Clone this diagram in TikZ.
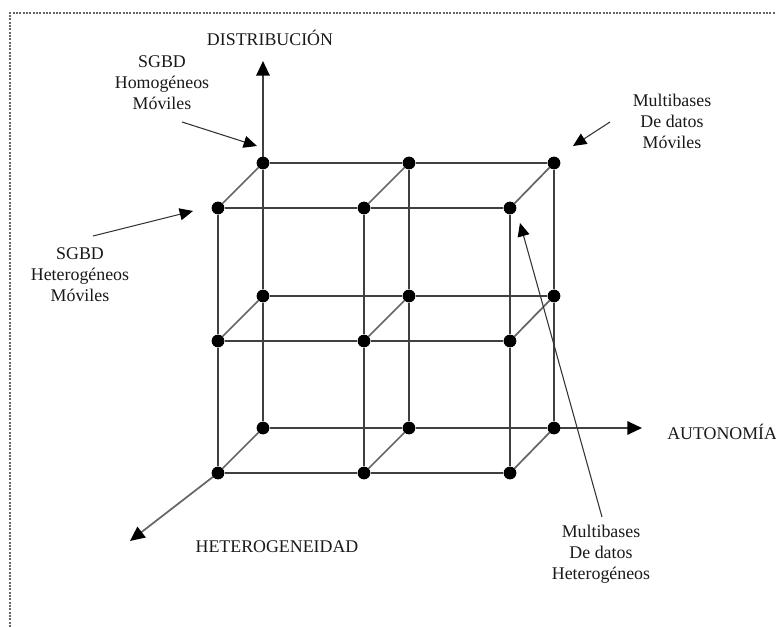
\documentclass[tikz,border=0pt]{standalone}
\usepackage{fontspec}
\setmainfont{Liberation Serif}
\usetikzlibrary{arrows.meta}
\begin{document}
\begin{tikzpicture}[x=0.75pt,y=-0.75pt,
  dot/.style={circle,fill=black,inner sep=0pt,minimum size=9.4pt},
  edge/.style={draw=black!75,line width=1.6pt},
  diag/.style={draw=black!60,line width=1.3pt},
  axis/.style={draw=black!75,line width=1.6pt,-{Triangle[length=11pt,width=10pt,color=black]}},
  callout/.style={draw=black!80,line width=0.8pt,-{Triangle[length=10pt,width=9pt,color=black]}},
  lbl/.style={font=\fontsize{13.4}{15.8}\selectfont,align=center,text=black!90,inner sep=0pt},
  frame/.style={draw=black!60,line width=1.5pt,densely dotted}]
\useasboundingbox (0,0) rectangle (776,627);
\coordinate (fr0) at (10,13);
\coordinate (fr1) at (776,13);
\coordinate (fr2) at (10,627);
\draw[frame] (fr2) -- (fr0) -- (fr1);
% grid points: front face (f) and back face (b)
\foreach \c/\x in {a/218,b/364,c/510}{
  \foreach \r/\y in {1/208,2/341,3/473}{
    \node[dot] (f\c\r) at (\x,\y) {};
  }
}
\foreach \c/\x in {a/263,b/409,c/554}{
  \foreach \r/\y in {1/163,2/296,3/428}{
    \node[dot] (b\c\r) at (\x,\y) {};
  }
}
% axes
\coordinate (axD) at (263,61);
\coordinate (axA) at (642,428);
\coordinate (axH) at (130,541);
\draw[axis] (ba1.center) -- (axD);
\draw[axis] (bc3.center) -- (axA);
\draw[axis,draw=black!60,line width=1.3pt] (fa3.center) -- (axH);
% diagonals
\foreach \c in {a,b,c}{\foreach \r in {1,2,3}{\draw[diag] (f\c\r) -- (b\c\r);}}
% back face
\foreach \r in {1,2,3}{\draw[edge] (ba\r) -- (bb\r) -- (bc\r);}
\foreach \c in {a,b,c}{\draw[edge] (b\c1) -- (b\c2) -- (b\c3);}
% front face
\foreach \r in {1,2,3}{\draw[edge] (fa\r) -- (fb\r) -- (fc\r);}
\foreach \c in {a,b,c}{\draw[edge] (f\c1) -- (f\c2) -- (f\c3);}
% redraw dots on top
\foreach \c in {a,b,c}{\foreach \r in {1,2,3}{\fill (f\c\r) circle (4.7pt); \fill (b\c\r) circle (4.7pt);}}
% axis labels
\node[lbl] (tD) at (270,38) {DISTRIBUCIÓN};
\node[lbl,anchor=west] (tA) at (667,432) {AUTONOMÍA};
\node[lbl] (tH) at (277,547) {HETEROGENEIDAD};
% callout labels
\node[lbl] (tHM) at (162,83) {SGBD\\Homogéneos\\Móviles};
\node[lbl] (tHeM) at (80,275) {SGBD\\Heterogéneos\\Móviles};
\node[lbl] (tMM) at (672,121) {Multibases\\De datos\\Móviles};
\node[lbl] (tMH) at (601,554) {Multibases\\De datos\\Heterogéneos};
% callout arrows
\coordinate (c1s) at (182,122); \coordinate (c1e) at (257,146);
\coordinate (c2s) at (93,236);  \coordinate (c2e) at (193,211);
\coordinate (c3s) at (610,122); \coordinate (c3e) at (573,146);
\coordinate (c4s) at (602,517); \coordinate (c4e) at (520,223);
\draw[callout] (c1s) -- (c1e);
\draw[callout] (c2s) -- (c2e);
\draw[callout] (c3s) -- (c3e);
\draw[callout] (c4s) -- (c4e);
\end{tikzpicture}
\end{document}
